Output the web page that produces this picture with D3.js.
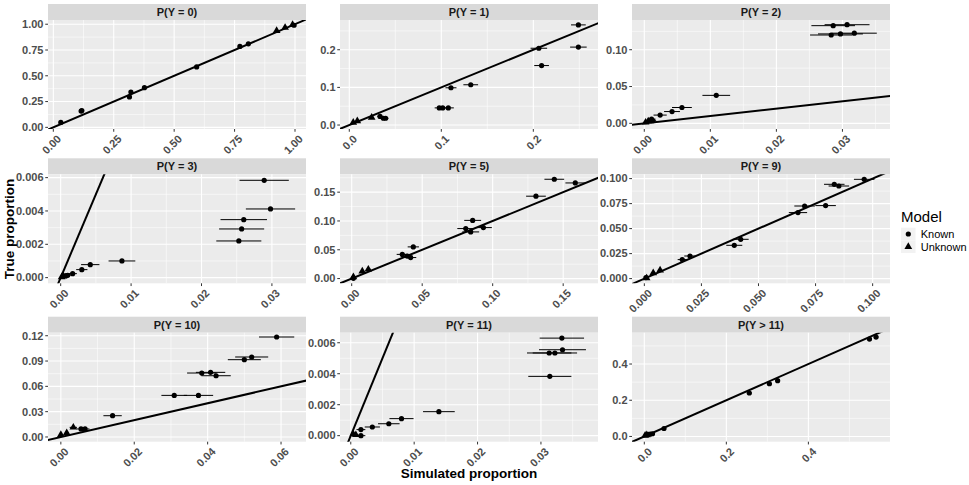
<!DOCTYPE html>
<html>
<head>
<meta charset="utf-8">
<script src="https://d3js.org/d3.v7.min.js"></script>
<style>
  body { margin: 0; background: #fff; }
  svg text { font-family: "Liberation Sans", Arial, sans-serif; }
</style>
</head>
<body>
<script>
const K = "Known", U = "Unknown";

// facet titles
const facets = ["P(Y = 0)", "P(Y = 1)", "P(Y = 2)", "P(Y = 3)", "P(Y = 5)",
                "P(Y = 9)", "P(Y = 10)", "P(Y = 11)", "P(Y > 11)"];

// [simulated, true, error half-width, model]
const p0 = [[0.031, 0.048, 0.003, K], [0.115, 0.158, 0.004, K], [0.118, 0.163, 0.004, K],
            [0.315, 0.295, 0.005, K], [0.321, 0.343, 0.005, K], [0.377, 0.385, 0.005, K],
            [0.593, 0.586, 0.005, K], [0.772, 0.785, 0.005, K], [0.807, 0.810, 0.005, K],
            [0.924, 0.936, 0.003, U], [0.959, 0.967, 0.003, U], [0.990, 0.996, 0.002, U],
            [0.996, 0.990, 0.002, K]];
const p1 = [[0.0043, 0.007, 0.001, U], [0.0087, 0.0105, 0.001, U], [0.0243, 0.020, 0.002, U],
            [0.0334, 0.023, 0.003, K], [0.0370, 0.018, 0.003, K], [0.0395, 0.018, 0.003, K],
            [0.0978, 0.0456, 0.005, K], [0.1015, 0.0456, 0.005, K], [0.1076, 0.0456, 0.006, K],
            [0.1105, 0.099, 0.006, K], [0.132, 0.107, 0.008, K], [0.206, 0.204, 0.009, K],
            [0.209, 0.158, 0.008, K], [0.249, 0.266, 0.008, K], [0.249, 0.207, 0.009, K]];
const p2 = [[0.0002, 0.0013, 0.0003, U], [0.0006, 0.003, 0.0004, U], [0.0011, 0.0057, 0.0006, K],
            [0.0013, 0.0035, 0.0005, K], [0.0024, 0.0112, 0.0010, K], [0.0042, 0.016, 0.0012, K],
            [0.0057, 0.0215, 0.0015, K], [0.0109, 0.038, 0.0021, K], [0.0286, 0.1327, 0.0033, K],
            [0.0307, 0.134, 0.0034, K], [0.0283, 0.120, 0.0032, K], [0.0297, 0.1215, 0.0034, K],
            [0.0318, 0.1225, 0.0034, K]];
const p3 = [[0.00014, 0.00004, 0.0001, U], [0.0004, 0.00008, 0.0002, U], [0.00075, 0.00012, 0.0003, K],
            [0.0010, 0.00014, 0.0004, K], [0.0017, 0.00024, 0.0006, K], [0.0030, 0.00048, 0.0008, K],
            [0.0042, 0.00078, 0.0013, K], [0.0087, 0.0010, 0.0019, K], [0.0289, 0.00584, 0.0035, K],
            [0.0298, 0.00412, 0.0035, K], [0.0260, 0.00348, 0.0033, K], [0.0257, 0.00292, 0.0032, K],
            [0.0253, 0.0022, 0.0032, K]];
const p4 = [[0.0012, 0.0028, 0.001, U], [0.0012, 0.0005, 0.001, K], [0.0075, 0.0127, 0.001, U],
            [0.0118, 0.016, 0.0015, U], [0.0359, 0.042, 0.004, K], [0.0394, 0.039, 0.004, K],
            [0.0418, 0.0365, 0.004, K], [0.0437, 0.055, 0.004, K], [0.0809, 0.0868, 0.006, K],
            [0.0844, 0.081, 0.006, K], [0.0858, 0.101, 0.006, K], [0.0934, 0.0885, 0.006, K],
            [0.1307, 0.143, 0.007, K], [0.1437, 0.1724, 0.007, K], [0.1586, 0.166, 0.007, K]];
const p5 = [[0.0007, 0.001, 0.0006, K], [0.0010, 0.0005, 0.0006, U], [0.0039, 0.0056, 0.001, U],
            [0.0069, 0.0083, 0.001, U], [0.0166, 0.019, 0.002, K], [0.020, 0.0226, 0.0025, K],
            [0.0394, 0.0333, 0.0035, K], [0.0422, 0.0393, 0.0035, K], [0.0673, 0.066, 0.004, K],
            [0.0702, 0.0726, 0.0045, K], [0.0794, 0.073, 0.0045, K], [0.0832, 0.0943, 0.0045, K],
            [0.0852, 0.0926, 0.0045, K], [0.0963, 0.0993, 0.0045, K]];
const p6 = [[0.0000, 0.0027, 0.0003, U], [0.0016, 0.0047, 0.0005, U], [0.0034, 0.0114, 0.0010, U],
            [0.0055, 0.0095, 0.0012, K], [0.0066, 0.0095, 0.0012, K], [0.0141, 0.0252, 0.0025, K],
            [0.0309, 0.0493, 0.0035, K], [0.0375, 0.0493, 0.004, K], [0.0384, 0.0758, 0.004, K],
            [0.0408, 0.0766, 0.004, K], [0.0423, 0.0726, 0.004, K], [0.0500, 0.0916, 0.0045, K],
            [0.0520, 0.0948, 0.0045, K], [0.0588, 0.1185, 0.0048, K]];
const p7 = [[0.0004, 0.0001, 0.0003, U], [0.0008, 0.00005, 0.0004, U], [0.0016, 0.0, 0.0007, K],
            [0.0016, 0.00039, 0.0007, K], [0.0034, 0.00056, 0.0012, K], [0.0060, 0.00077, 0.0017, K],
            [0.0080, 0.0011, 0.0019, K], [0.0139, 0.00155, 0.0025, K], [0.0333, 0.0063, 0.0035, K],
            [0.0334, 0.00555, 0.0037, K], [0.0313, 0.00534, 0.0035, K], [0.0322, 0.00534, 0.0035, K],
            [0.0314, 0.00383, 0.0034, K]];
const p8 = [[0.002, 0.0055, 0.001, U], [0.006, 0.008, 0.001, U], [0.010, 0.011, 0.001, K],
            [0.015, 0.013, 0.0015, K], [0.020, 0.015, 0.0015, K], [0.048, 0.044, 0.003, K],
            [0.256, 0.240, 0.006, K], [0.305, 0.291, 0.006, K], [0.325, 0.308, 0.006, K],
            [0.549, 0.538, 0.006, K], [0.565, 0.549, 0.006, K]];
const facetData = [p0, p1, p2, p3, p4, p5, p6, p7, p8];

// tick values per facet
const xTicks = [[0, 0.25, 0.5, 0.75, 1], [0, 0.1, 0.2], [0, 0.01, 0.02, 0.03],
                [0, 0.01, 0.02, 0.03], [0, 0.05, 0.1, 0.15], [0, 0.025, 0.05, 0.075, 0.1],
                [0, 0.02, 0.04, 0.06], [0, 0.01, 0.02, 0.03], [0, 0.2, 0.4]];
const yTicks = [[0, 0.25, 0.5, 0.75, 1], [0, 0.1, 0.2], [0, 0.05, 0.1],
                [0, 0.002, 0.004, 0.006], [0, 0.05, 0.1, 0.15], [0, 0.025, 0.05, 0.075, 0.1],
                [0, 0.03, 0.06, 0.09, 0.12], [0, 0.002, 0.004, 0.006], [0, 0.2, 0.4]];
const xDigits = [2, 1, 2, 2, 2, 3, 2, 2, 1];
const yDigits = [2, 1, 2, 3, 2, 3, 2, 3, 1];

// free scale ranges per facet (ggplot expanded limits)
const xDomains = [[-0.022, 1.0455], [-0.0101, 0.2703], [-0.00186, 0.0372],
                  [-0.0018, 0.03484], [-0.0083, 0.1747], [-0.0054, 0.1076],
                  [-0.0035, 0.0668], [-0.0017, 0.039], [-0.03, 0.599]];
const yDomains = [[-0.016, 1.041], [-0.0105, 0.279], [-0.0077, 0.1404],
                  [-0.00034, 0.0062], [-0.0082, 0.181], [-0.0047, 0.1043],
                  [-0.0056, 0.1236], [-0.00039, 0.00665], [-0.029, 0.573]];

const W = 969, H = 485;
const colX = [48, 340, 632], panelW = 258;
const rowTop = [4, 158.3, 316.7], stripH = 16, plotH = 109;

const svg = d3.select("body").append("svg")
    .attr("width", W).attr("height", H);

const tri = d3.symbol().type(d3.symbolTriangle).size(26);

facets.forEach(function(title, i) {
    const col = i % 3, row = Math.floor(i / 3);
    const data = facetData[i];

    const x = d3.scaleLinear().domain(xDomains[i]).range([0, panelW]);
    const y = d3.scaleLinear().domain(yDomains[i]).range([plotH, 0]);

    // strip
    svg.append("rect")
        .attr("x", colX[col]).attr("y", rowTop[row])
        .attr("width", panelW).attr("height", stripH)
        .attr("fill", "#D9D9D9");
    svg.append("text")
        .attr("x", colX[col] + panelW / 2).attr("y", rowTop[row] + stripH / 2)
        .attr("dy", "0.36em")
        .attr("text-anchor", "middle")
        .attr("font-size", 11).attr("font-weight", "bold")
        .attr("fill", "#1A1A1A")
        .text(title);

    const g = svg.append("g")
        .attr("transform", `translate(${colX[col]},${rowTop[row] + stripH})`);

    g.append("rect").attr("width", panelW).attr("height", plotH).attr("fill", "#EBEBEB");

    // minor breaks halfway between majors
    function minors(t, dom) {
        const step = t[1] - t[0];
        const out = [];
        for (let k = -1; k < t.length; k++) out.push(t[0] + (k + 0.5) * step);
        return out.filter(v => v >= dom[0] && v <= dom[1]);
    }
    const xt = xTicks[i], yt = yTicks[i];

    g.selectAll(".mx").data(minors(xt, xDomains[i])).join("line")
        .attr("x1", d => x(d)).attr("x2", d => x(d))
        .attr("y1", 0).attr("y2", plotH)
        .attr("stroke", "#fff").attr("stroke-width", 0.55);
    g.selectAll(".my").data(minors(yt, yDomains[i])).join("line")
        .attr("y1", d => y(d)).attr("y2", d => y(d))
        .attr("x1", 0).attr("x2", panelW)
        .attr("stroke", "#fff").attr("stroke-width", 0.55);
    g.selectAll(".gx").data(xt).join("line")
        .attr("x1", d => x(d)).attr("x2", d => x(d))
        .attr("y1", 0).attr("y2", plotH)
        .attr("stroke", "#fff").attr("stroke-width", 1.1);
    g.selectAll(".gy").data(yt).join("line")
        .attr("y1", d => y(d)).attr("y2", d => y(d))
        .attr("x1", 0).attr("x2", panelW)
        .attr("stroke", "#fff").attr("stroke-width", 1.1);

    // clip marks to the panel
    g.append("clipPath").attr("id", "clip" + i)
        .append("rect").attr("width", panelW).attr("height", plotH);
    const marks = g.append("g").attr("clip-path", `url(#clip${i})`);

    // identity line y = x
    const lo = Math.min(xDomains[i][0], yDomains[i][0]);
    const hi = Math.max(xDomains[i][1], yDomains[i][1]);
    marks.append("line")
        .attr("x1", x(lo)).attr("y1", y(lo))
        .attr("x2", x(hi)).attr("y2", y(hi))
        .attr("stroke", "#000").attr("stroke-width", 2);

    // horizontal error bars
    marks.selectAll(".eb").data(data).join("line")
        .attr("x1", d => x(d[0] - d[2])).attr("x2", d => x(d[0] + d[2]))
        .attr("y1", d => y(d[1])).attr("y2", d => y(d[1]))
        .attr("stroke", "#000").attr("stroke-width", 1);

    // points
    marks.selectAll(".pt").data(data.filter(d => d[3] === K)).join("circle")
        .attr("cx", d => x(d[0])).attr("cy", d => y(d[1]))
        .attr("r", 2.6).attr("fill", "#000");
    marks.selectAll(".tr").data(data.filter(d => d[3] === U)).join("path")
        .attr("d", tri)
        .attr("transform", d => `translate(${x(d[0])},${y(d[1])})`)
        .attr("fill", "#000");

    // y axis
    const fy = d3.format(`.${yDigits[i]}f`);
    g.selectAll(".ty").data(yt).join("line")
        .attr("x1", -2.75).attr("x2", 0)
        .attr("y1", d => y(d)).attr("y2", d => y(d))
        .attr("stroke", "#333").attr("stroke-width", 1);
    g.selectAll(".ly").data(yt).join("text")
        .attr("x", -4.5).attr("y", d => y(d)).attr("dy", "0.35em")
        .attr("text-anchor", "end")
        .attr("font-size", 11).attr("font-weight", "bold")
        .attr("fill", "#4D4D4D")
        .text(d => fy(d));

    // x axis, labels rotated 45 degrees
    const fx = d3.format(`.${xDigits[i]}f`);
    g.selectAll(".tx").data(xt).join("line")
        .attr("x1", d => x(d)).attr("x2", d => x(d))
        .attr("y1", plotH).attr("y2", plotH + 2.75)
        .attr("stroke", "#333").attr("stroke-width", 1);
    g.selectAll(".lx").data(xt).join("text")
        .attr("transform", d => `translate(${x(d) + 3},${plotH + 5}) rotate(-45)`)
        .attr("dy", "0.72em")
        .attr("text-anchor", "end")
        .attr("font-size", 11).attr("font-weight", "bold")
        .attr("fill", "#4D4D4D")
        .text(d => fx(d));
});

// axis titles
svg.append("text")
    .attr("x", 469).attr("y", 478)
    .attr("text-anchor", "middle")
    .attr("font-size", 13.5).attr("font-weight", "bold")
    .text("Simulated proportion");
svg.append("text")
    .attr("transform", "translate(13.5,229) rotate(-90)")
    .attr("text-anchor", "middle")
    .attr("font-size", 13.5).attr("font-weight", "bold")
    .text("True proportion");

// legend
const legend = svg.append("g").attr("transform", "translate(901,0)");
legend.append("text")
    .attr("x", 0).attr("y", 221.5)
    .attr("font-size", 15)
    .text("Model");
const keys = [K, U];
const keyY = [234, 246.7];
keys.forEach(function(k, j) {
    legend.append("rect")
        .attr("x", 0).attr("y", keyY[j] - 6.3)
        .attr("width", 14.5).attr("height", 12.6)
        .attr("fill", "#F2F2F2");
    if (k === K) {
        legend.append("circle").attr("cx", 7.3).attr("cy", keyY[j]).attr("r", 2.6).attr("fill", "#000");
    } else {
        legend.append("path").attr("d", tri)
            .attr("transform", `translate(7.3,${keyY[j]})`).attr("fill", "#000");
    }
    legend.append("text")
        .attr("x", 19.7).attr("y", keyY[j]).attr("dy", "0.35em")
        .attr("font-size", 11)
        .text(k);
});
</script>
</body>
</html>
